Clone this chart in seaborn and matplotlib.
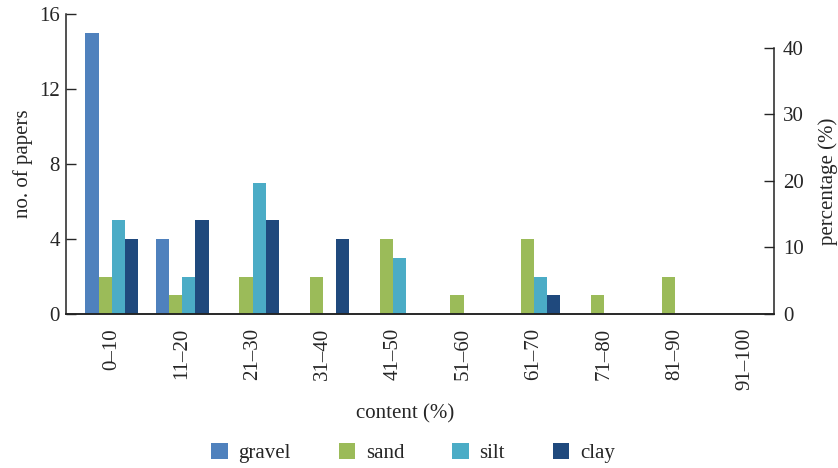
import pandas as pd
import matplotlib.pyplot as plt
import seaborn as sns

# content classes (%) and number of papers per grain-size fraction
classes = ['0\u201310', '11\u201320', '21\u201330', '31\u201340', '41\u201350',
           '51\u201360', '61\u201370', '71\u201380', '81\u201390', '91\u2013100']
gravel = [15, 4, 0, 0, 0, 0, 0, 0, 0, 0]
sand = [2, 1, 2, 2, 4, 1, 4, 1, 2, 0]
silt = [5, 2, 7, 0, 3, 0, 2, 0, 0, 0]
clay = [4, 5, 5, 4, 0, 0, 1, 0, 0, 0]

fractions = ['gravel', 'sand', 'silt', 'clay']
colors = ['#4F81BD', '#9BBB59', '#4BACC6', '#1F497D']

# long-form table for seaborn
df = pd.DataFrame({'content': classes, 'gravel': gravel, 'sand': sand,
                   'silt': silt, 'clay': clay})
df = df.melt(id_vars='content', var_name='fraction', value_name='papers')

sns.set_style('white')
plt.rcParams['font.family'] = ['Liberation Serif', 'DejaVu Serif']
plt.rcParams['font.size'] = 15

fig = plt.figure(figsize=(8.38, 4.68), dpi=100)
ax = fig.add_axes([66 / 838, 1 - 314 / 468, 708 / 838, 300 / 468])

sns.barplot(data=df, x='content', y='papers', hue='fraction',
            hue_order=fractions, order=classes, palette=colors,
            width=0.75, gap=0, linewidth=0, saturation=1, ax=ax)

ax.set_xlim(-0.65, 9.41)
ax.set_ylim(0, 16)
ax.set_yticks([0, 4, 8, 12, 16])
ax.set_ylabel('no. of papers', fontsize=15, labelpad=4)
ax.set_xlabel('content (%)', fontsize=15)
ax.xaxis.set_label_coords((405 - 66) / 708, -0.30)
ax.tick_params(axis='x', length=0, pad=10, rotation=90, labelsize=15)
ax.tick_params(axis='y', direction='in', length=7, width=1, pad=4.5,
               labelsize=15, left=True)
for lab in ax.get_xticklabels():
    lab.set_verticalalignment('top')

# right axis with percentage of papers
top_pct = 45.06
ax2 = ax.twinx()
ax2.set_ylim(0, top_pct)
ax2.set_yticks([0, 10, 20, 30, 40])
ax2.set_ylabel('percentage (%)', fontsize=15, labelpad=10)
ax2.yaxis.label.set_y(20 / top_pct)
ax2.tick_params(axis='y', direction='in', length=7, width=1, pad=6.5,
                labelsize=15, right=True)

for a in (ax, ax2):
    a.spines['top'].set_visible(False)
    for s in ('left', 'right', 'bottom'):
        a.spines[s].set_linewidth(1.1)
        a.spines[s].set_color('#222222')
ax.spines['right'].set_visible(False)
ax2.spines['left'].set_visible(False)
ax2.spines['right'].set_bounds(0, 40)

handles, labels = ax.get_legend_handles_labels()
ax.get_legend().remove()
fig.legend(handles, labels, loc='center', bbox_to_anchor=(413 / 838, 1 - 453 / 468),
           ncol=4, frameon=False, fontsize=15, handlelength=0.8,
           handleheight=0.8, handletextpad=0.5, columnspacing=2.3)

fig.savefig('out.png', dpi=100)
